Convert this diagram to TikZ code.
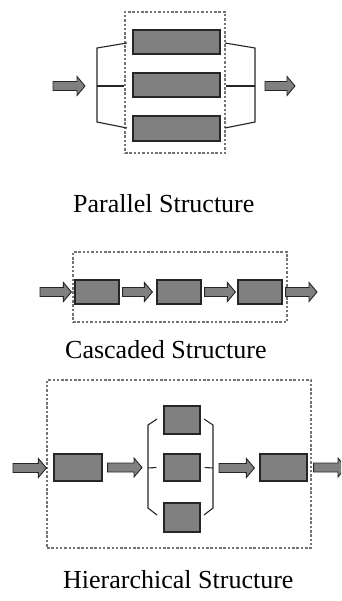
\documentclass[tikz,border=0pt]{standalone}
\usepackage{fontspec}
\setmainfont{Liberation Serif}
\usetikzlibrary{calc}
\tikzset{blk/.style = {rectangle, draw=black!85, fill=black!50, line width=1.2pt, inner sep=0}}
\tikzset{grp/.style = {rectangle, draw=black!55, line width=1.1pt, dash pattern=on 2.5pt off 1.8pt, inner sep=0}}
\tikzset{brk/.style = {draw=black!85, line width=1.1pt}}
\tikzset{fat/.style = {fill=black!50, draw=black!85, line width=0.9pt, line join=miter}}
\tikzset{lbl/.style = {font=\fontsize{26}{30}\selectfont, inner sep=0}}
\newcommand{\fatarrow}[2]{%
  \path[fat] let \p1=(#1), \p2=(#2) in
    (\x1,\y1+4.5pt) -- (\x2-8pt,\y1+4.5pt) -- (\x2-8pt,\y1+9.5pt) -- (\x2,\y1)
    -- (\x2-8pt,\y1-9.5pt) -- (\x2-8pt,\y1-4.5pt) -- (\x1,\y1-4.5pt) -- cycle;}

\begin{document}
\begin{tikzpicture}[x=1pt, y=-1pt]
    \clip (0,0) rectangle (341,601);

    % parallel
    \node [grp, minimum width=100pt, minimum height=141pt] (pgrp) at (175,82.5) {};
    \node [blk, minimum width=87pt, minimum height=24pt] (p1) at (176.5,42) {};
    \node [blk, minimum width=87pt, minimum height=24pt] (p2) at (176.5,85) {};
    \node [blk, minimum width=87pt, minimum height=25pt] (p3) at (176.5,128.5) {};
    \coordinate (pl) at (97,86);
    \coordinate (pr) at (255,86);
    \draw [brk] (127,43) -- (97,48) -- (97,122) -- (127,128);
    \draw [brk] (pl) -- (pgrp.west |- pl);
    \draw [brk] (225,43) -- (255,48) -- (255,122) -- (225,128);
    \draw [brk] (pr) -- (pgrp.east |- pr);
    \coordinate (pin) at (53,86);
    \coordinate (pout) at (295,86);
    \fatarrow{pin}{$(pl)+(-12,0)$}
    \fatarrow{$(pr)+(10,0)$}{pout}
    \node [lbl, anchor=base west] (ptxt) at (73,213) {Parallel Structure};

    % cascaded
    \node [grp, minimum width=214pt, minimum height=70pt] (cgrp) at (180,287) {};
    \node [blk, minimum width=44pt, minimum height=24pt] (c1) at (97,292) {};
    \node [blk, minimum width=44pt, minimum height=24pt] (c2) at (179,292) {};
    \node [blk, minimum width=44pt, minimum height=24pt] (c3) at (260,292) {};
    \coordinate (cin) at (40,292);
    \coordinate (cout) at (317,292);
    \fatarrow{cin}{$(c1.west)+(-3,0)$}
    \fatarrow{$(c1.east)+(3,0)$}{$(c2.west)+(-4,0)$}
    \fatarrow{$(c2.east)+(3,0)$}{$(c3.west)+(-2,0)$}
    \fatarrow{$(c3.east)+(3,0)$}{cout}
    \node [lbl, anchor=base west] (ctxt) at (65,358) {Cascaded Structure};

    % hierarchical
    \node [grp, minimum width=264pt, minimum height=168pt] (hgrp) at (179,464) {};
    \node [blk, minimum width=48pt, minimum height=27pt] (h1) at (78,467.5) {};
    \node [blk, minimum width=36pt, minimum height=28pt] (m1) at (182,420) {};
    \node [blk, minimum width=36pt, minimum height=27pt] (m2) at (182,467.5) {};
    \node [blk, minimum width=36pt, minimum height=29pt] (m3) at (182,517.5) {};
    \node [blk, minimum width=47pt, minimum height=27pt] (h2) at (283.5,467.5) {};
    \coordinate (hl) at (148,468);
    \coordinate (hr) at (213,468);
    \draw [brk] (157,419) -- (148,425) -- (148,508) -- (157,515);
    \draw [brk] (hl) -- ($(m2.west)+(-7,0)$);
    \draw [brk] (204,419) -- (213,425) -- (213,508) -- (204,515);
    \draw [brk] (hr) -- ($(m2.east)+(4,0)$);
    \coordinate (hin) at (13,468);
    \coordinate (hout) at (346,468);
    \fatarrow{hin}{$(h1.west)+(-7,0)$}
    \fatarrow{$(h1.east)+(5,0)$}{$(hl)+(-6,0)$}
    \fatarrow{$(hr)+(6,0)$}{$(h2.west)+(-5,0)$}
    \fatarrow{$(h2.east)+(6,0)$}{hout}
    \node [lbl, anchor=base west] (htxt) at (63,588) {Hierarchical Structure};
\end{tikzpicture}
\end{document}
